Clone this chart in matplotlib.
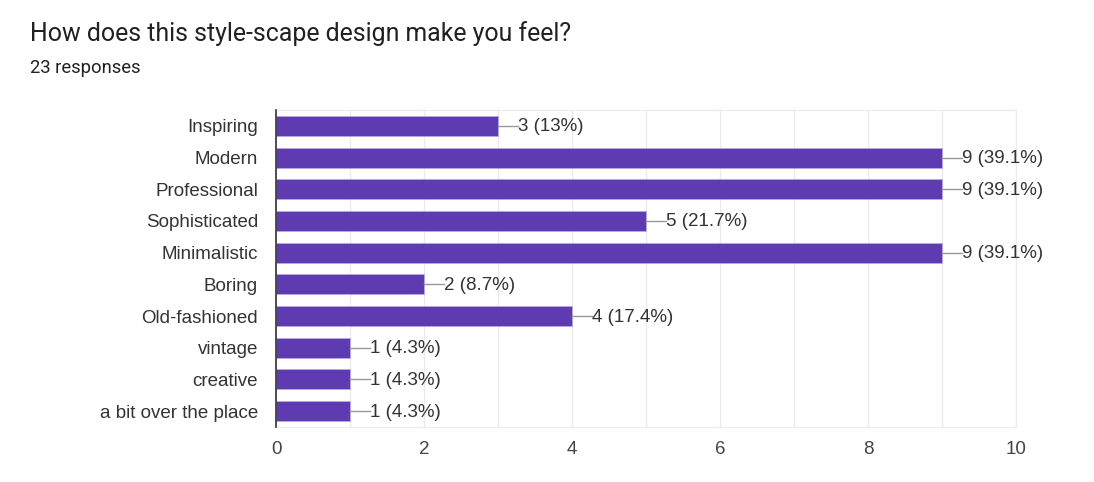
import numpy as np
import matplotlib.pyplot as plt

plt.rcParams['font.family'] = ['Liberation Sans', 'DejaVu Sans']

# Données
categories = ["Inspiring", "Modern", "Professional", "Sophisticated", "Minimalistic",
              "Boring", "Old-fashioned", "vintage", "creative", "a bit over the place"]
counts = [3, 9, 9, 5, 9, 2, 4, 1, 1, 1]
labels = ["3 (13%)", "9 (39.1%)", "9 (39.1%)", "5 (21.7%)", "9 (39.1%)",
          "2 (8.7%)", "4 (17.4%)", "1 (4.3%)", "1 (4.3%)", "1 (4.3%)"]
xticks = [0, 2, 4, 6, 8, 10]

fig = plt.figure(figsize=(10.94, 4.82), dpi=100)
ax = fig.add_axes([276/1094, 1 - 427/482, 740/1094, 317/482])

y = np.arange(len(categories))
ax.barh(y, counts, height=0.63, color='#5e3bb0', edgecolor='#b9a7e0', linewidth=0.6, zorder=3)

# Étiquettes avec trait
for yi, c, lab in zip(y, counts, labels):
    ax.plot([c, c + 0.27], [yi, yi], color='#999999', lw=1, zorder=3)
    ax.text(c + 0.27, yi + 0.03, lab, va='center', ha='left', fontsize=13.5, color='#333333')

ax.set_xlim(0, 10)
ax.set_ylim(len(categories) - 0.5, -0.5)
ax.set_yticks(y)
ax.set_yticklabels(categories, fontsize=13.5, color='#333333')
ax.set_xticks(xticks)
ax.set_xticklabels([str(t) for t in xticks], fontsize=13.5, color='#444444')
ax.set_xticks(np.arange(0, 11, 1), minor=True)
ax.grid(axis='x', which='both', color='#ebebeb', lw=1, zorder=0)
ax.tick_params(axis='both', which='both', length=0)
ax.tick_params(axis='x', pad=10)
ax.tick_params(axis='y', pad=13)

for s in ['top', 'right', 'bottom']:
    ax.spines[s].set_color('#ebebeb')
ax.spines['left'].set_color('#333333')
ax.spines['left'].set_linewidth(1.2)
ax.spines['left'].set_zorder(4)

fig.text(30/1094, 1 - 34/482, "How does this style-scape design make you feel?",
         fontsize=17.9, color='#202124', va='center', ha='left', family=['Roboto', 'DejaVu Sans'])
fig.text(30/1094, 1 - 68/482, "23 responses", fontsize=13.2, color='#202124',
         va='center', ha='left', family=['Roboto', 'DejaVu Sans'])

fig.savefig('out.png', dpi=100)
